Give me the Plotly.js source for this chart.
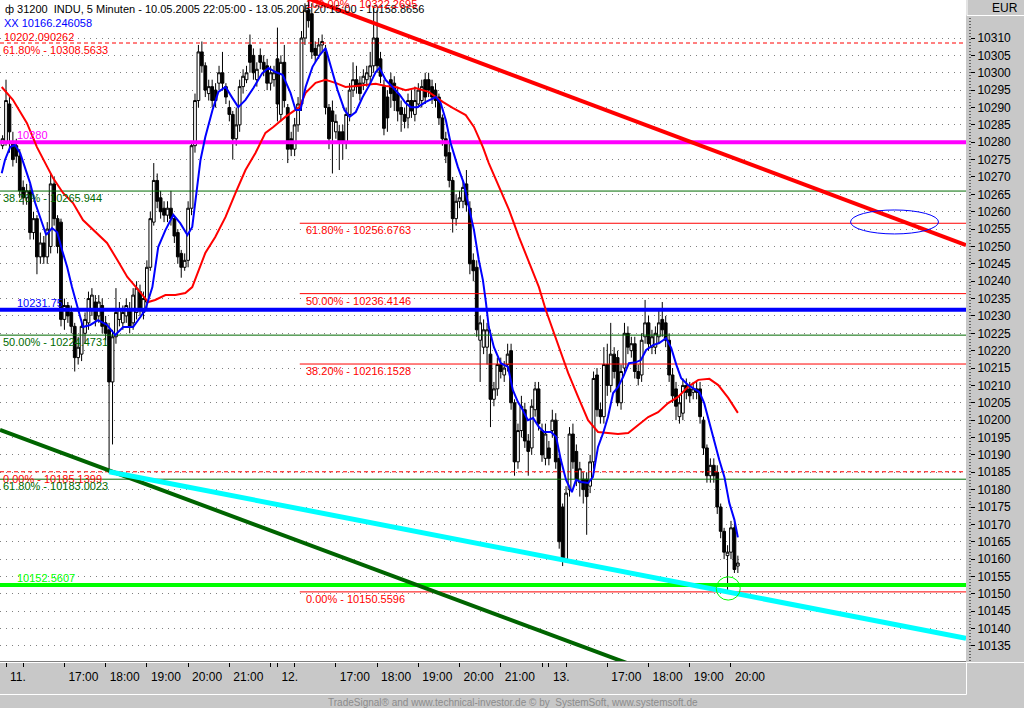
<!DOCTYPE html>
<html>
<head>
<meta charset="utf-8">
<script src="https://cdn.plot.ly/plotly-3.0.1.min.js"></script>
<style>
html,body{margin:0;padding:0;background:#c8c8c8;overflow:hidden}
#chart{width:1024px;height:708px}
</style>
</head>
<body>
<div id="chart"></div>
<script>
// ---------------- DATA ----------------
// 5-minute bars, INDU, 11.-13.05.2005 (bar index -1 .. 213)
const barOpen = [
10279,10280,10291,10280,10279,10276,10267,10264,10266,10254,
10258,10247,10251,10247,10250,10268,10258,10257,10229,10233,
10231,10227,10218,10219,10225,10228,10232,10234,10230,10233,
10228,10226,10211,10224,10229,10228,10230,10232,10228,10231,
10237,10231,10234,10244,10257,10269,10264,10261,10259,10261,
10258,10254,10248,10244,10246,10261,10279,10292,10306,10302,
10294,10296,10295,10297,10300,10296,10290,10288,10281,10285,
10296,10298,10308,10305,10298,10305,10303,10302,10297,10298,
10304,10288,10303,10290,10281,10278,10285,10291,10310,10318,
10317,10307,10305,10308,10306,10290,10289,10283,10283,10283,
10280,10288,10295,10298,10297,10297,10298,10299,10302,10310,
10304,10296,10293,10298,10297,10294,10290,10288,10287,10292,
10288,10291,10292,10298,10298,10296,10295,10293,10287,10281,
10277,10269,10258,10263,10263,10268,10261,10246,10244,10223,
10221,10221,10219,10206,10209,10216,10213,10216,10220,10205,
10188,10197,10203,10194,10192,10203,10209,10197,10189,10192,
10197,10200,10189,10175,10160,10180,10196,10191,10182,10183,
10183,10181,10188,10213,10203,10201,10216,10210,10219,10218,
10205,10215,10225,10220,10222,10214,10213,10224,10228,10221,
10221,10224,10229,10228,10223,10213,10209,10201,10202,10210,
10209,10208,10209,10209,10200,10192,10184,10187,10185,10175,
10168,10161,10162,10169,10158];
const barHigh = [
10282,10298,10293,10283,10281,10278,10269,10268,10268,10260,
10259,10254,10253,10257,10271,10270,10259,10258,10235,10234,
10233,10228,10224,10229,10231,10237,10238,10236,10236,10235,
10230,10228,10226,10238,10234,10233,10235,10234,10238,10240,
10239,10237,10246,10260,10274,10271,10266,10263,10263,10266,
10259,10255,10249,10248,10263,10280,10294,10308,10309,10303,
10298,10298,10297,10302,10306,10297,10292,10289,10290,10298,
10301,10302,10311,10307,10303,10307,10305,10304,10302,10302,
10313,10305,10308,10291,10283,10287,10293,10312,10320,10322.27,
10320,10309,10310,10311,10308,10291,10292,10288,10285,10285,
10290,10297,10303,10302,10299,10301,10302,10306,10319,10318,
10306,10298,10295,10300,10299,10296,10292,10290,10294,10295,
10296,10297,10298,10300,10300,10298,10297,10294,10288,10283,
10280,10270,10265,10266,10269,10272,10263,10248,10246,10230,
10229,10228,10226,10211,10218,10218,10217,10222,10222,10206,
10199,10207,10205,10196,10206,10211,10211,10199,10199,10194,
10203,10202,10190,10176,10181,10198,10199,10193,10188,10185,
10185,10190,10214,10215,10205,10221,10222,10228,10221,10220,
10216,10228,10227,10224,10224,10216,10225,10234.6,10230,10226,
10227,10232,10234,10230,10225,10215,10211,10207,10212,10212,
10211,10211,10211,10211,10201,10193,10189,10189,10187,10176,
10169,10164,10171,10171,10161];
const barLow = [
10278,10279,10277,10273,10274,10264,10262,10262,10252,10252,
10242,10245,10245,10245,10248,10256,10248,10227,10226,10228,
10225,10214,10216,10217,10222,10226,10230,10227,10228,10225,
10223,10185.14,10193,10222,10227,10226,10228,10225,10226,10229,
10230,10229,10232,10243,10256,10261,10258,10257,10257,10256,
10251,10245,10241,10243,10244,10259,10277,10290,10300,10293,
10292,10290,10290,10295,10295,10291,10286,10275,10279,10283,
10294,10297,10300,10298,10296,10301,10299,10295,10295,10296,
10286,10286,10290,10274,10276,10276,10283,10289,10308,10313,
10304,10303,10304,10306,10288,10278,10271,10281,10272,10275,
10278,10286,10293,10294,10292,10295,10296,10297,10300,10300,
10297,10282,10283,10290,10289,10286,10283,10284,10284,10287,
10286,10290,10290,10291,10293,10291,10290,10285,10279,10274,
10267,10254,10256,10261,10261,10260,10242,10240,10224,10211,
10219,10216,10198,10204,10207,10212,10211,10214,10203,10184,
10186,10195,10192,10184,10190,10201,10197,10188,10187,10187,
10195,10186,10163,10158,10159,10178,10186,10181,10178,10176,
10167,10179,10186,10201,10199,10199,10207,10208,10212,10204,
10203,10213,10219,10218,10212,10210,10211,10222,10220,10219,
10219,10222,10224,10221,10211,10205,10200,10199,10200,10206,
10205,10206,10206,10199,10190,10182,10182,10182,10173,10166,
10160,10150.56,10160,10156,10156];
const barClose = [
10281,10292,10283,10275,10276,10266,10264,10266,10254,10258,
10247,10251,10247,10255,10268,10258,10250,10229,10233,10230,
10227,10218,10221,10227,10229,10235,10236,10229,10234,10227,
10225,10211,10224,10231,10232,10231,10233,10227,10236,10238,
10232,10235,10244,10258,10269,10263,10260,10259,10261,10258,
10253,10247,10244,10246,10261,10279,10292,10306,10302,10295,
10296,10292,10292,10300,10297,10293,10288,10281,10285,10296,
10299,10300,10303,10300,10301,10303,10301,10297,10300,10300,
10291,10303,10292,10278,10278,10285,10291,10310,10318,10315,
10306,10305,10308,10309,10290,10281,10286,10286,10280,10280,
10288,10295,10298,10296,10294,10299,10300,10302,10310,10302,
10299,10284,10287,10294,10292,10289,10288,10286,10292,10289,
10292,10295,10296,10293,10295,10293,10292,10287,10281,10276,
10269,10258,10263,10264,10267,10262,10245,10243,10226,10228,
10226,10226,10206,10209,10216,10214,10215,10219,10205,10188,
10197,10204,10194,10191,10204,10209,10199,10190,10196,10189,
10200,10188,10165,10160,10179,10196,10188,10183,10186,10180,
10178,10188,10212,10203,10201,10216,10210,10219,10214,10205,
10214,10225,10221,10222,10214,10212,10223,10228,10222,10224,
10225,10228,10226,10223,10213,10207,10204,10205,10210,10208,
10207,10209,10208,10201,10192,10184,10187,10184,10175,10168,
10162,10162,10169,10157,10158.87];
const firstBar = -1;

// time axis: bar index of each tick and its label
const tickBars   = [0, 5, 17, 29, 41, 53, 65, 77, 79, 84, 96, 108, 120, 132, 144, 156, 158, 163, 175, 187, 199, 211];
const tickLabels = ['11.', '', '17:00', '18:00', '19:00', '20:00', '21:00', '', '12.', '', '17:00', '18:00', '19:00', '20:00', '21:00', '', '13.', '', '17:00', '18:00', '19:00', '20:00'];

// price axis ticks
const priceTicks = [10135,10140,10145,10150,10155,10160,10165,10170,10175,10180,10185,10190,10195,10200,
  10205,10210,10215,10220,10225,10230,10235,10240,10245,10250,10255,10260,10265,10270,10275,10280,
  10285,10290,10295,10300,10305,10310];

// fast average (blue "XX")
const fastMaBars = [-1.25,-0.3,1.2,2.6,4.1,5.5,7.0,8.5,10.5,11.7,13.4,14.9,16.3,17.8,19.2,21.0,22.4,24.5,26.8,29.4,
  31.8,34.1,37.0,39.1,40.5,42.6,44.3,46.4,48.7,50.7,52.8,54.2,55.1,56.6,58.0,60.1,61.8,63.9,65.9,67.6,
  69.7,72.0,74.6,76.4,78.4,80.5,82.8,84.3,85.7,87.2,89.2,91.3,93.0,94.5,96.5,98.5,100.0,101.8,103.8,105.8,
  107.6,108.7,110.5,112.5,114.6,116.3,117.8,119.8,122.2,125.1,126.5,128.0,129.4,131.5,133.2,134.7,136.2,137.6,138.8,139.7,
  140.5,142.0,144.0,146.1,147.5,149.0,150.4,151.9,153.4,155.1,156.6,158.6,160.1,161.5,163.0,164.7,165.9,167.4,169.4,170.8,
  172.3,173.8,175.2,176.7,178.1,179.6,181.3,183.4,184.8,186.3,188.3,190.1,192.1,193.6,195.1,196.5,198.5,200.3,201.8,203.2,
  204.7,206.1,207.6,209.1,210.5,212.0,213.0];
const fastMaVals = [10271.1,10274.9,10278.6,10279.2,10276.9,10272.9,10268.3,10262.5,10256.7,10253.3,
  10255.3,10254.1,10249.0,10244.1,10238.3,10231.7,10226.8,10227.4,10228.8,10227.4,
  10224.5,10226.8,10226.8,10229.7,10231.7,10238.3,10249.8,10254.7,10259.1,10256.7,
  10253.3,10255.6,10263.4,10274.9,10281.5,10289.3,10294.5,10295.9,10292.7,10290.1,
  10292.2,10295.6,10299.9,10301.4,10300.2,10299.4,10294.2,10289.3,10289.3,10295.9,
  10301.7,10305.1,10307.1,10302.2,10295.0,10289.3,10287.3,10288.7,10293.0,10296.5,
  10300.2,10301.4,10297.9,10295.9,10293.6,10291.3,10290.1,10290.1,10291.6,10293.0,
  10291.3,10286.4,10279.8,10272.9,10268.3,10261.4,10254.7,10246.1,10240.3,10233.7,
  10226.8,10221.0,10216.4,10215.3,10208.7,10205.2,10202.9,10200.0,10200.6,10198.0,
  10196.6,10196.6,10195.2,10188.5,10182.8,10179.3,10182.8,10182.2,10181.9,10183.6,
  10192.3,10196.3,10200.9,10207.8,10209.5,10212.4,10216.4,10216.7,10217.3,10220.2,
  10221.6,10222.2,10223.6,10220.8,10215.9,10212.1,10210.1,10209.0,10208.1,10204.9,
  10199.2,10194.3,10188.5,10183.6,10176.2,10171.3,10166.25];
const fastMaLast = '10166.246058';

// slow average (red)
const slowMaBars = [-1.25,2.0,6.1,9.0,12.0,13.7,16.6,19.5,22.4,25.4,29.4,32.4,35.3,38.5,41.4,43.4,46.4,49.3,52.2,54.2,
  56.0,58.0,60.9,63.9,66.8,69.7,72.6,75.5,77.8,81.3,85.4,87.2,90.1,93.0,95.9,98.8,101.8,104.7,107.6,110.5,
  113.4,116.3,119.2,123.0,127.1,130.0,133.8,136.2,138.8,140.5,143.4,146.4,149.3,152.2,155.1,157.1,160.1,163.6,166.5,169.4,
  172.3,175.2,178.1,181.1,184.0,186.9,189.8,192.7,195.6,198.5,201.5,204.7,207.3,210.2,213.0];
const slowMaVals = [10295.9,10292.2,10285.5,10278.6,10272.9,10269.7,10265.4,10262.5,10257.6,10254.7,
  10251.0,10246.1,10241.2,10237.5,10234.0,10234.6,10236.0,10236.0,10236.6,10238.3,
  10243.2,10248.1,10252.7,10258.5,10265.4,10272.0,10276.9,10282.7,10284.4,10287.3,
  10290.1,10294.2,10297.1,10298.0,10297.1,10295.9,10296.2,10296.5,10296.8,10296.2,
  10295.9,10295.0,10295.6,10294.5,10291.6,10289.9,10287.8,10284.4,10278.6,10274.0,
  10267.1,10260.5,10252.7,10245.2,10238.3,10231.7,10223.1,10213.6,10206.7,10200.0,
  10196.6,10196.3,10196.0,10196.3,10198.6,10200.9,10202.3,10204.9,10206.7,10209.6,
  10211.6,10211.9,10210.1,10206.4,10202.1];
const slowMaLast = '10202.090262';

// Fibonacci retracement (red, from high 10322.2695 to low 10150.5596)
const fibRedPct    = ['100.00%', '61.80%', '50.00%', '38.20%', '0.00%'];
const fibRedLevels = [10322.2695, 10256.6763, 10236.4146, 10216.1528, 10150.5596];
// second retracement (dark green)
const fibGreenPct    = ['38.20%', '50.00%', '61.80%'];
const fibGreenLevels = [10265.944, 10224.4731, 10183.0023];
// third retracement (red dashed)
const fibDashPct    = ['61.80%', '0.00%'];
const fibDashLevels = [10308.5633, 10185.1399];
// horizontal support / resistance lines
const lineLevels = [10280, 10231.75, 10152.5607];

// trend lines (bar index, price)
const resistBars = [87.6, 279.4],  resistVals = [10321.5, 10250.4];   // red
const channelBars = [-1.75, 185],  channelVals = [10197.2, 10128.5];  // dark green
const supportBars = [30, 279.4],   supportVals = [10185.14, 10137.2]; // cyan

// marked zones (ellipses): [bar0, bar1, price0, price1]
const zoneA = [245.8, 271.4, 10253.6, 10260.5];
const zoneB = [206.7, 213.7, 10148.2, 10154.9];

const titleText = 'ф 31200\u00a0\u00a0INDU, 5 Minuten - 10.05.2005 22:05:00 - 13.05.2005 20:15:00 - 10158.8656';
const footerText = 'TradeSignal® and www.technical-investor.de © by\u00a0\u00a0SystemSoft, www.systemsoft.de';

// ---------------- CHART ----------------
const FONT = "'Liberation Sans Narrow', 'Liberation Sans', Arial, sans-serif";
const FS = 11;
const W = 1024, H = 708, ML = 0, MR = 54, MT = 0, MB = 47;
const PW = W - ML - MR, PH = H - MT - MB;
const px = v => v / PW;
const py = v => 1 - v / PH;
const X0 = -1.75, X1 = 279.4;
const Y0 = 10130.67, Y1 = 10320.94;
const RED = '#ff0000', BLUE = '#0000ff', MAG = '#ff00ff', DKGREEN = '#006a00', LIME = '#00ff00', CYAN = '#00ffff';
const fibStart = 85.5;

const bars = barOpen.map((_, i) => firstBar + i);

const traces = [];
traces.push({
  type: 'candlestick', x: bars, open: barOpen, high: barHigh, low: barLow, close: barClose,
  increasing: {line: {color: '#000000', width: 1}, fillcolor: '#ffffff'},
  decreasing: {line: {color: '#000000', width: 1}, fillcolor: '#000000'},
  whiskerwidth: 0, hoverinfo: 'skip', showlegend: false
});
function hline(x0, x1, yv, color, width, dash) {
  traces.push({type: 'scatter', mode: 'lines', x: [x0, x1], y: [yv, yv],
    line: {color: color, width: width, dash: dash || 'solid'}, hoverinfo: 'skip', showlegend: false});
}
fibGreenLevels.forEach(v => hline(X0, X1, v, DKGREEN, 1));
fibRedLevels.forEach(v => hline(fibStart, X1, v, RED, 1));
fibDashLevels.forEach(v => hline(X0, X1, v, RED, 1, '4px,3px'));
const lineStyles = [{c: MAG, w: 4}, {c: BLUE, w: 4}, {c: LIME, w: 4}];
lineLevels.forEach((v, i) => hline(X0, X1, v, lineStyles[i].c, lineStyles[i].w));

traces.push({type: 'scatter', mode: 'lines', x: slowMaBars, y: slowMaVals, line: {color: RED, width: 2}, hoverinfo: 'skip', showlegend: false});
traces.push({type: 'scatter', mode: 'lines', x: fastMaBars, y: fastMaVals, line: {color: BLUE, width: 2}, hoverinfo: 'skip', showlegend: false});
traces.push({type: 'scatter', mode: 'lines', x: resistBars, y: resistVals, line: {color: RED, width: 4}, hoverinfo: 'skip', showlegend: false});
traces.push({type: 'scatter', mode: 'lines', x: channelBars, y: channelVals, line: {color: '#006400', width: 4}, hoverinfo: 'skip', showlegend: false});
traces.push({type: 'scatter', mode: 'lines', x: supportBars, y: supportVals, line: {color: CYAN, width: 5}, hoverinfo: 'skip', showlegend: false});

const ann = [];
function label(text, x, xref, y, yref, color, yanchor) {
  ann.push({text: text, x: x, xref: xref, y: y, yref: yref, xanchor: 'left', yanchor: yanchor || 'middle',
    showarrow: false, borderpad: 0, font: {family: FONT, size: FS, color: color}});
}
label(titleText, px(4), 'paper', py(9), 'paper', '#000000');
label(fibRedPct[0] + ' - ' + fibRedLevels[0], px(305), 'paper', py(4), 'paper', RED);
label('XX ' + fastMaLast, px(3), 'paper', py(23), 'paper', BLUE);
label(slowMaLast, px(3), 'paper', py(37), 'paper', RED);
fibDashLevels.forEach((v, i) => label(fibDashPct[i] + ' - ' + v, px(2), 'paper', v, 'y', RED, 'top'));
fibGreenLevels.forEach((v, i) => label(fibGreenPct[i] + ' - ' + v, px(2), 'paper', v, 'y', DKGREEN, 'top'));
fibRedLevels.forEach((v, i) => { if (i > 0) label(fibRedPct[i] + ' - ' + v, px(305), 'paper', v, 'y', RED, 'top'); });
lineLevels.forEach((v, i) => label(String(v), px(16), 'paper', v, 'y', lineStyles[i].c, 'bottom'));
ann.push({text: 'EUR', x: px(1020), xref: 'paper', y: py(8), yref: 'paper', xanchor: 'right', yanchor: 'middle',
  showarrow: false, font: {family: FONT, size: 12, color: '#000000'}});
ann.push({text: footerText, x: px(513), xref: 'paper', y: py(702), yref: 'paper', xanchor: 'center', yanchor: 'middle',
  showarrow: false, font: {family: FONT, size: 10, color: '#8c8c8c'}});

const shapes = [
  {type: 'circle', xref: 'x', yref: 'y', x0: zoneA[0], x1: zoneA[1], y0: zoneA[2], y1: zoneA[3], line: {color: BLUE, width: 1}},
  {type: 'circle', xref: 'x', yref: 'y', x0: zoneB[0], x1: zoneB[1], y0: zoneB[2], y1: zoneB[3], line: {color: LIME, width: 1}},
  // right panel dotted axis line
  {type: 'line', xref: 'paper', yref: 'paper', x0: 1, x1: 1, y0: 0, y1: py(18), line: {color: '#000000', width: 1, dash: '1px,2px'}},
  // EUR header edges
  {type: 'line', xref: 'paper', yref: 'paper', x0: px(967), x1: px(1024), y0: py(15.5), y1: py(15.5), line: {color: '#ffffff', width: 1}},
  {type: 'line', xref: 'paper', yref: 'paper', x0: px(967), x1: px(967), y0: py(0), y1: py(15.5), line: {color: '#ffffff', width: 1}},
  // time axis panel frame
  {type: 'line', xref: 'paper', yref: 'paper', x0: 0, x1: px(1024), y0: py(662.5), y1: py(662.5), line: {color: '#ffffff', width: 1}},
  {type: 'line', xref: 'paper', yref: 'paper', x0: px(966.5), x1: px(966.5), y0: py(662.5), y1: py(694.5), line: {color: '#ffffff', width: 1}},
  {type: 'line', xref: 'paper', yref: 'paper', x0: 0, x1: px(966.5), y0: py(694.5), y1: py(694.5), line: {color: '#ffffff', width: 1}}
];

const layout = {
  width: W, height: H,
  margin: {l: ML, r: MR, t: MT, b: MB, pad: 0},
  paper_bgcolor: '#c8c8c8', plot_bgcolor: '#ffffff',
  showlegend: false, dragmode: false, hovermode: false,
  boxgap: 0.2, boxgroupgap: 0,
  font: {family: FONT, size: FS, color: '#000000'},
  xaxis: {
    domain: [0, 966 / PW], range: [X0, X1], type: 'linear',
    rangeslider: {visible: false}, showgrid: false, zeroline: false,
    showline: true, linecolor: '#808080', linewidth: 1,
    tickmode: 'array', tickvals: tickBars, ticktext: tickLabels,
    ticks: 'outside', ticklen: 5, tickcolor: '#000000', tickwidth: 1,
    ticklabelposition: 'outside right', ticklabelstandoff: 5, ticklabelshift: 3,
    tickfont: {family: FONT, size: FS + 1, color: '#000000'}, fixedrange: true
  },
  yaxis: {
    range: [Y0, Y1], side: 'right', anchor: 'free', position: 1,
    tickmode: 'array', tickvals: priceTicks, tickformat: 'd',
    ticks: 'outside', ticklen: 4, tickcolor: '#000000', tickwidth: 1,
    showgrid: true, gridcolor: '#808080', griddash: '1px,5px', gridwidth: 1,
    zeroline: false, showline: false,
    tickfont: {family: FONT, size: FS + 1, color: '#000000'}, fixedrange: true
  },
  annotations: ann,
  shapes: shapes
};

Plotly.newPlot('chart', traces, layout, {displayModeBar: false, staticPlot: true});
</script>
</body>
</html>
